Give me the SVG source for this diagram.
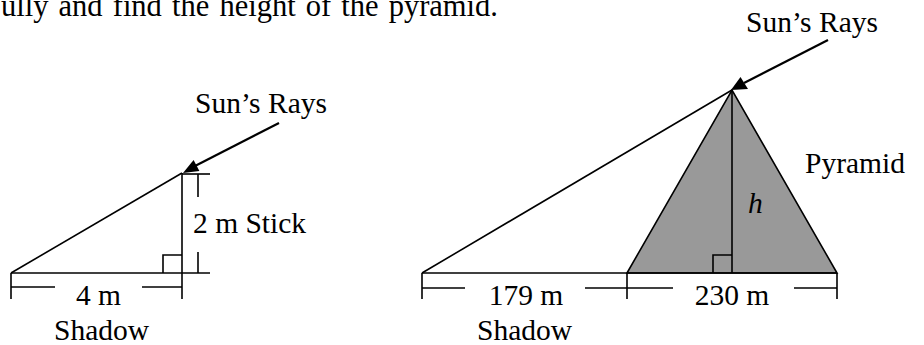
<svg xmlns="http://www.w3.org/2000/svg" width="924" height="345" viewBox="0 0 924 345">
<style>
text{font-family:"Liberation Serif","Times New Roman",serif;font-size:29.5px;fill:#000}
.l{stroke:#000;stroke-width:1.6;fill:none}
.r{stroke:#000;stroke-width:2.2;fill:none}
.ah{fill:#000;stroke:none}
</style>
<rect width="924" height="345" fill="#fff"/>
<text x="1" y="16" style="font-size:30.5px" word-spacing="2.5">ully and find the height of the pyramid.</text>
<g id="connectors">
<!-- small diagram -->
<line class="l" x1="11" y1="273" x2="210" y2="273"/>
<line class="l" x1="11" y1="273" x2="182" y2="173"/>
<line class="l" x1="182" y1="173" x2="182" y2="299"/>
<line class="r" x1="279" y1="123" x2="195" y2="166"/>
<polygon class="ah" points="183,173 193.6,160 199.4,171"/>
<line class="l" x1="182" y1="174" x2="210" y2="174"/>
<line class="l" x1="198" y1="174" x2="198" y2="197"/>
<line class="l" x1="198" y1="252" x2="198" y2="273"/>
<polyline class="l" points="163,273 163,255 182,255"/>
<line class="l" x1="11" y1="273" x2="11" y2="299"/>
<line class="l" x1="11" y1="287" x2="55" y2="287"/>
<line class="l" x1="142" y1="287" x2="182" y2="287"/>
<!-- large diagram -->
<polygon points="627,273 732,90 837,273" fill="#999" stroke="#000" stroke-width="1.6"/>
<line class="l" x1="422" y1="273" x2="837" y2="273"/>
<line class="l" x1="422" y1="273" x2="732" y2="90"/>
<line class="l" x1="732" y1="90" x2="732" y2="273"/>
<polyline class="l" points="713,273 713,255 732,255"/>
<line class="r" x1="828" y1="40" x2="744" y2="83"/>
<polygon class="ah" points="731,90 740.5,77 748,89"/>
<line class="l" x1="422" y1="273" x2="422" y2="299"/>
<line class="l" x1="627" y1="273" x2="627" y2="299"/>
<line class="l" x1="837" y1="273" x2="837" y2="299"/>
<line class="l" x1="422" y1="288" x2="465" y2="288"/>
<line class="l" x1="585" y1="288" x2="673" y2="288"/>
<line class="l" x1="794" y1="288" x2="837" y2="288"/>
</g>
<g id="labels-small">
<text x="195" y="113">Sun’s Rays</text>
<text x="193" y="233">2 m Stick</text>
<text x="98.5" y="305" text-anchor="middle">4 m</text>
<text x="101.5" y="340" text-anchor="middle">Shadow</text>
</g>
<g id="labels-large">
<text x="746" y="32">Sun’s Rays</text>
<text x="805" y="173">Pyramid</text>
<text x="748" y="213" font-style="italic">h</text>
<text x="526" y="305" text-anchor="middle">179 m</text>
<text x="524.5" y="340" text-anchor="middle">Shadow</text>
<text x="732" y="305" text-anchor="middle">230 m</text>
</g>
</svg>
